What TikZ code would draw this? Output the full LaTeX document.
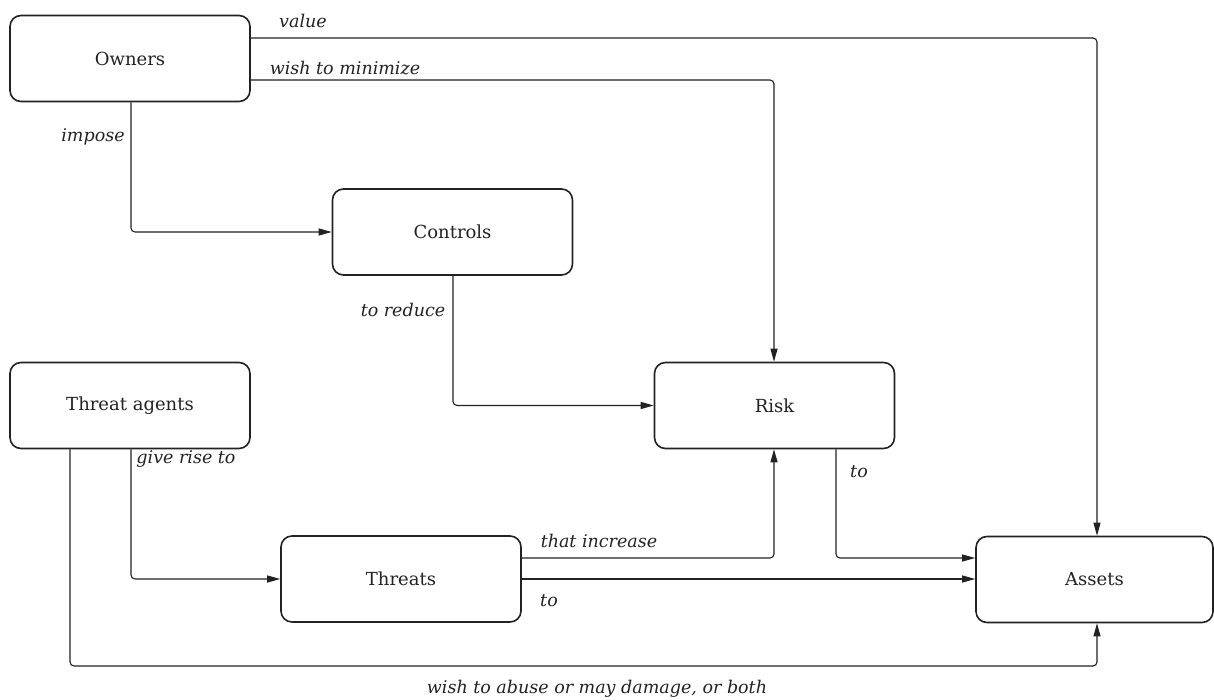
\documentclass[tikz,border=0pt]{standalone}
\usepackage{fontspec}
\setmainfont{DejaVu Serif}
\usetikzlibrary{arrows.meta}
\definecolor{ink}{HTML}{222222}
\begin{document}
\begin{tikzpicture}[x=1pt,y=-1pt,
  box/.style={draw=ink,line width=1.6pt,rounded corners=11pt,minimum width=240pt,minimum height=86pt,inner sep=0pt,text=ink,font=\fontsize{18}{20}\selectfont},
  conn/.style={draw=ink,line width=1.1pt,rounded corners=4pt,-{Triangle[length=13pt,width=7pt]}},
  lbl/.style={text=ink,font=\fontsize{17.5}{20}\selectfont\itshape,inner sep=0pt}]
\useasboundingbox (0,0) rectangle (1214,700);
% nodes
\node[box] (owners) at (130,58.5) {Owners};
\node[box] (controls) at (452.5,232) {Controls};
\node[box] (agents) at (130,405.5) {Threat agents};
\node[box] (risk) at (774.5,405.5) {Risk};
\node[box] (threats) at (401,579) {Threats};
\node[box,minimum width=237pt] (assets) at (1094.5,579.5) {Assets};
% connectors
\draw[conn] (owners.east |- 0,38) -| (assets.north -| 1097,0);
\draw[conn] (owners.east |- 0,80) -| (risk.north -| 774,0);
\draw[conn] (owners.south -| 131,0) |- (controls.west);
\draw[conn] (controls.south -| 453,0) |- (risk.west);
\draw[conn] (agents.south -| 131,0) |- (threats.west);
\draw[conn] (agents.south -| 70,0) -- (70,666) -- (1097,666) -- (assets.south -| 1097,0);
\draw[conn] (threats.east |- 0,558) -| (risk.south -| 774,0);
\draw[conn] (threats.east |- 0,579) -- (assets.west |- 0,579);
\draw[conn] (risk.south -| 836,0) |- (assets.west |- 0,558);
% labels
\node[lbl] (l1) at (303,21) {value};
\node[lbl] (l2) at (345,68) {wish to minimize};
\node[lbl] (l3) at (93,137) {impose};
\node[lbl] (l4) at (403,310) {to reduce};
\node[lbl] (l5) at (186,459) {give rise to};
\node[lbl] (l6) at (599,541) {that increase};
\node[lbl] (l7) at (549,601) {to};
\node[lbl] (l8) at (859,472) {to};
\node[lbl] (l9) at (597,689) {wish to abuse or may damage, or both};
\end{tikzpicture}
\end{document}
